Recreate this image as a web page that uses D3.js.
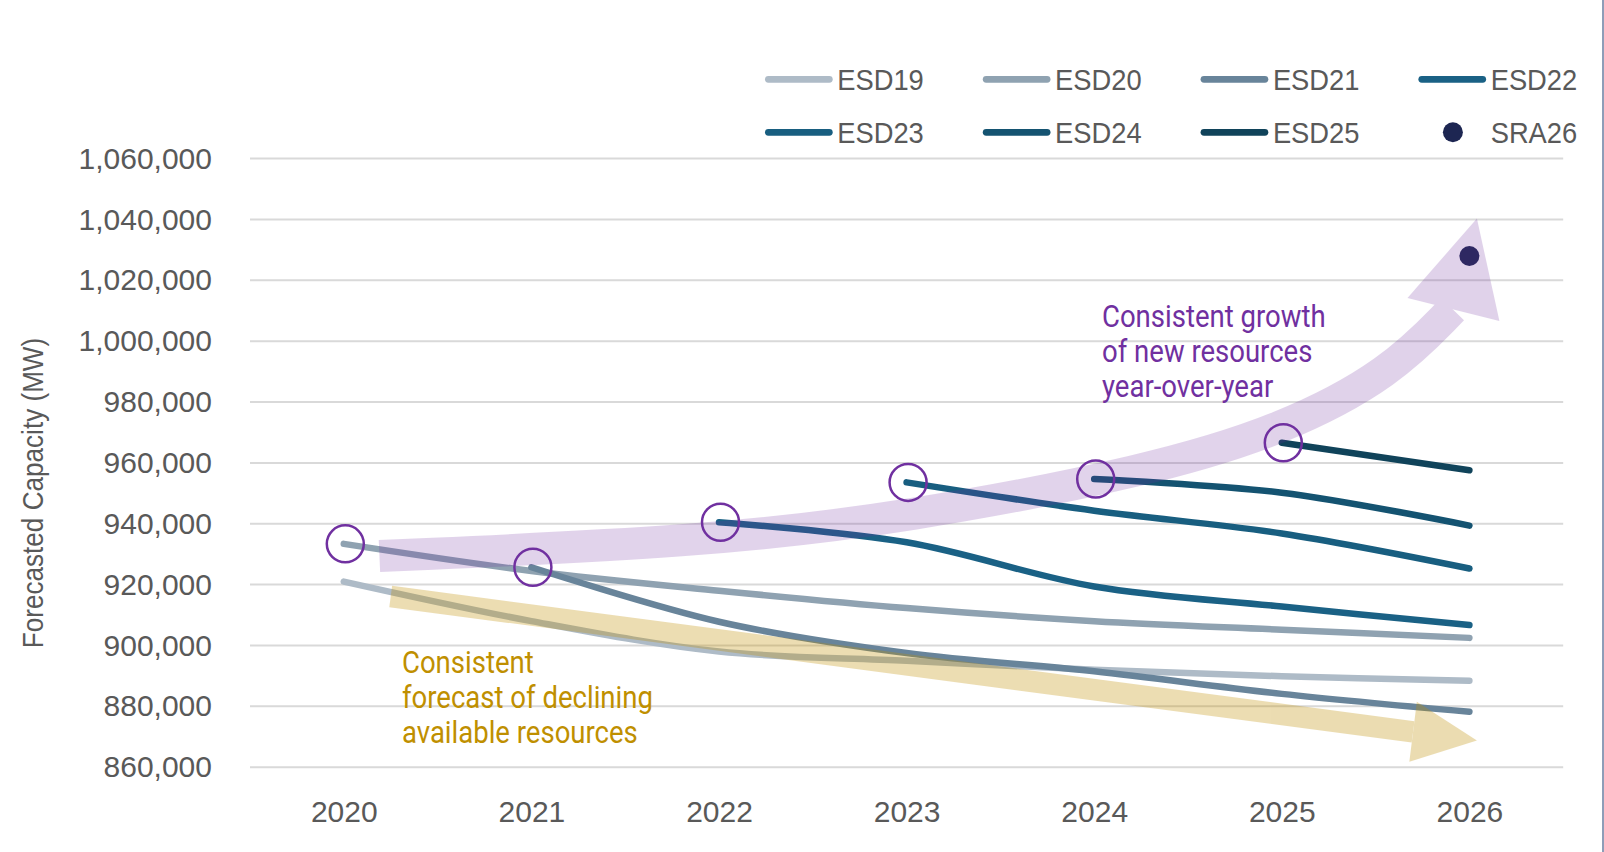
<!DOCTYPE html>
<html>
<head>
<meta charset="utf-8">
<script src="https://cdn.jsdelivr.net/npm/d3@7"></script>
<style>
  body { margin: 0; background: #fff; }
  svg { display: block; }
</style>
</head>
<body>
<svg class="chart" width="1604" height="852"></svg>
<script>
// years on the x axis
const years = [2020, 2021, 2022, 2023, 2024, 2025, 2026];
const yTicks = [860000, 880000, 900000, 920000, 940000, 960000, 980000, 1000000, 1020000, 1040000, 1060000];

// forecast series, MW (null = not forecast that year)
const esd19 = [921000, 908000, 898000, 895000, 892000, 889900, 888400];
const esd20 = [933400, 924500, 918000, 912300, 908000, 905200, 902500];
const esd21 = [null, 925700, 907800, 897500, 891500, 884100, 878200];
const esd22 = [null, null, 940500, 933900, 919400, 912800, 906700];
const esd23 = [null, null, null, 953600, 944300, 936800, 925300];
const esd24 = [null, null, null, null, 954700, 950200, 939400];
const esd25 = [null, null, null, null, null, 966600, 957600];
const sra26 = [null, null, null, null, null, null, 1028000];

const seriesNames = ["ESD19", "ESD20", "ESD21", "ESD22", "ESD23", "ESD24", "ESD25"];
const seriesColors = ["#aebbc7", "#8fa2b1", "#68849a", "#1a6185", "#185e80", "#145371", "#10435a"];
const sraColor = "#1d2652";

// annotation arrows, in (year, MW) space
const growthPath = [[2020.19, 929400], [2021.9, 934000], [2023.0, 942000], [2024.3, 957500], [2025.01, 971000], [2025.58, 989500], [2025.91, 1010500]];
const growthHead = [[2025.67, 1014200], [2026.04, 1040300], [2026.16, 1006600]];
const declinePath = [[2020.25, 916100], [2025.7, 871600]];
const declineHead = [[2025.72, 881500], [2026.04, 868800], [2025.68, 861800]];

const svg = d3.select(".chart");
const labelFont = "'Liberation Sans', Arial, sans-serif";
const noteFont = "Roboto, 'Noto Sans', sans-serif";

const x = d3.scaleLinear().domain([2020, 2026]).range([343.8, 1469.4]);
const y = d3.scaleLinear().domain([860000, 1060000]).range([767.2, 158.6]);

// squeeze text horizontally (source used a narrow face)
function condense(sel, f) {
  sel.each(function () {
    const w = this.getComputedTextLength();
    d3.select(this).attr("textLength", w * f).attr("lengthAdjust", "spacingAndGlyphs");
  });
}

// gridlines
svg.append("g")
  .selectAll("line")
  .data(yTicks)
  .enter()
  .append("line")
  .attr("x1", x(2019.5))
  .attr("x2", x(2026.5))
  .attr("y1", d => y(d))
  .attr("y2", d => y(d))
  .attr("stroke", "#d9d9d9")
  .attr("stroke-width", 2);

// y axis labels
const yAxis = svg.append("g")
  .attr("transform", "translate(212,0)")
  .call(d3.axisLeft(y).tickValues(yTicks).tickSize(0).tickPadding(0).tickFormat(d3.format(",")));
yAxis.select(".domain").remove();
yAxis.selectAll("text")
  .style("font-family", labelFont)
  .style("font-size", "30px")
  .attr("fill", "#595959");

// x axis labels
const xAxis = svg.append("g")
  .attr("transform", "translate(0,801)")
  .call(d3.axisBottom(x).tickValues(years).tickSize(0).tickPadding(0).tickFormat(d3.format("d")));
xAxis.select(".domain").remove();
xAxis.selectAll("text")
  .style("font-family", labelFont)
  .style("font-size", "30px")
  .attr("fill", "#595959");

// y axis title
const yTitle = svg.append("text")
  .attr("transform", "translate(43,493) rotate(-90)")
  .attr("text-anchor", "middle")
  .style("font-family", labelFont)
  .style("font-size", "30px")
  .attr("fill", "#595959")
  .text("Forecasted Capacity (MW)");
condense(yTitle, 0.87);

// lines
const allSeries = [esd19, esd20, esd21, esd22, esd23, esd24, esd25];
const lineGen = d3.line()
  .defined(d => d != null)
  .x((d, i) => x(years[i]))
  .y(d => y(d))
  .curve(d3.curveCatmullRom.alpha(0.5));

svg.append("g")
  .selectAll("path")
  .data(allSeries)
  .enter()
  .append("path")
  .attr("d", d => lineGen(d))
  .attr("fill", "none")
  .attr("stroke", (d, i) => seriesColors[i])
  .attr("stroke-width", 6.5)
  .attr("stroke-linecap", "round")
  .attr("stroke-linejoin", "round");

// SRA26 point
svg.append("g")
  .selectAll("circle")
  .data(sra26.map((v, i) => ({ year: years[i], v })).filter(d => d.v != null))
  .enter()
  .append("circle")
  .attr("cx", d => x(d.year))
  .attr("cy", d => y(d.v))
  .attr("r", 10)
  .attr("fill", sraColor);

// translucent arrows
const arrowLine = d3.line().x(d => x(d[0])).y(d => y(d[1]));
const growthG = svg.append("g").attr("opacity", 0.21);
growthG.append("path")
  .attr("d", d3.line().x(d => x(d[0])).y(d => y(d[1])).curve(d3.curveBasis)(growthPath))
  .attr("fill", "none")
  .attr("stroke", "#7030a0")
  .attr("stroke-width", 32);
growthG.append("path")
  .attr("d", arrowLine(growthHead) + "Z")
  .attr("fill", "#7030a0");

const declineG = svg.append("g").attr("opacity", 0.3);
declineG.append("path")
  .attr("d", arrowLine(declinePath))
  .attr("fill", "none")
  .attr("stroke", "#bf8f00")
  .attr("stroke-width", 21.5);
declineG.append("path")
  .attr("d", arrowLine(declineHead) + "Z")
  .attr("fill", "#bf8f00");

// circles on each new forecast's first year
const starts = allSeries.slice(1).map(s => {
  const i = s.findIndex(v => v != null);
  return { year: years[i], v: s[i] };
});
svg.append("g")
  .selectAll("circle")
  .data(starts)
  .enter()
  .append("circle")
  .attr("cx", d => x(d.year) + 1.5)
  .attr("cy", d => y(d.v))
  .attr("r", 18.5)
  .attr("fill", "none")
  .attr("stroke", "#7030a0")
  .attr("stroke-width", 2.5);

// annotation texts
function note(lines, x0, y0, color) {
  const t = svg.append("g");
  lines.forEach((s, i) => {
    const el = t.append("text")
      .attr("x", x0)
      .attr("y", y0 + i * 35)
      .style("font-family", noteFont)
      .style("font-size", "32px")
      .attr("fill", color)
      .text(s);
    condense(el, 0.86);
  });
}
note(["Consistent growth", "of new resources", "year-over-year"], 1102, 327, "#7030a0");
note(["Consistent", "forecast of declining", "available resources"], 402, 673, "#bf8f00");

// legend
const legendItems = seriesNames.map((n, i) => ({ name: n, color: seriesColors[i], dot: false }))
  .concat([{ name: "SRA26", color: sraColor, dot: true }]);
const legend = svg.append("g")
  .selectAll("g")
  .data(legendItems)
  .enter()
  .append("g")
  .attr("transform", (d, i) => "translate(" + (765 + (i % 4) * 217.8) + "," + (79.3 + Math.floor(i / 4) * 53) + ")");

legend.filter(d => !d.dot)
  .append("line")
  .attr("x1", 3.4)
  .attr("x2", 64.3)
  .attr("stroke", d => d.color)
  .attr("stroke-width", 6.8)
  .attr("stroke-linecap", "round");

legend.filter(d => d.dot)
  .append("circle")
  .attr("cx", 34.5)
  .attr("r", 10)
  .attr("fill", d => d.color);

const legendText = legend.append("text")
  .attr("x", 72.3)
  .attr("y", 10.8)
  .style("font-family", labelFont)
  .style("font-size", "30px")
  .attr("fill", "#595959")
  .text(d => d.name);
condense(legendText, 0.91);

// right edge frame line
svg.append("line")
  .attr("x1", 1603)
  .attr("x2", 1603)
  .attr("y1", 0)
  .attr("y2", 852)
  .attr("stroke", "#8f9db8")
  .attr("stroke-width", 2);
</script>
</body>
</html>
